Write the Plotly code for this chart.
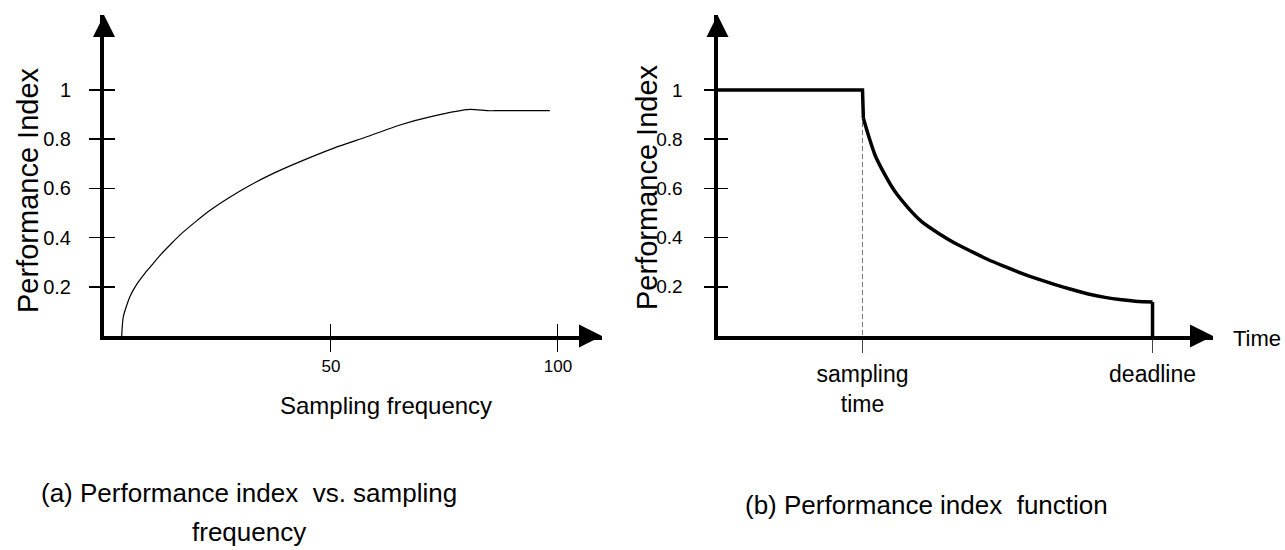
import plotly.graph_objects as go

# ---------------- data ----------------
# (a) performance index vs sampling frequency
freq_a = [3.9, 4.25, 5.7, 7.2, 9.0, 10.9, 12.7, 14.8, 17.0, 20.4, 23.3, 27.0, 31.4, 37.3,
          43.2, 50.5, 57.9, 65.2, 72.5, 80.6, 84.3, 87.2, 98.2]
perf_a = [0.0, 0.078, 0.16, 0.21, 0.255, 0.296, 0.335, 0.375, 0.415, 0.468, 0.51, 0.556,
          0.605, 0.661, 0.709, 0.763, 0.81, 0.858, 0.894, 0.921, 0.916, 0.916, 0.916]
xticks_a = [50, 100]
xticklabels_a = ["50", "100"]

# (b) performance index function over time (sampling time = 1, deadline = 3)
time_b = [0, 1, 1.006, 1.04, 1.086, 1.155, 1.224, 1.316, 1.408, 1.523, 1.638, 1.753, 1.868,
          1.983, 2.098, 2.212, 2.328, 2.443, 2.557, 2.672, 2.788, 2.902, 3, 3]
perf_b = [1, 1, 0.885, 0.817, 0.736, 0.655, 0.587, 0.52, 0.465, 0.418, 0.377, 0.343, 0.31,
          0.282, 0.255, 0.231, 0.209, 0.189, 0.171, 0.157, 0.147, 0.14, 0.138, 0]
sampling_time = 1
deadline = 3
xticks_b = [sampling_time, deadline]
xticklabels_b = ["sampling<br>time", "deadline"]

yticks = [0.2, 0.4, 0.6, 0.8, 1.0]
yticklabels = ["0.2", "0.4", "0.6", "0.8", "1"]

# ---------------- layout geometry ----------------
W, H = 1285, 550
def px(x):
    return x / W
def py(y):
    return 1 - y / H

Y_MAX = 1.305
XA_MAX = 109.7
XB_MAX = 3.417
ydom = [py(336), py(15)]
xdom_a = [px(104), px(602)]
xdom_b = [px(717.5), px(1213)]

FONT = "Liberation Sans, Arial, Helvetica, sans-serif"

fig = go.Figure()

# curve (a)
fig.add_trace(go.Scatter(x=freq_a, y=perf_a, mode="lines",
                         line=dict(color="black", width=1.2, shape="spline", smoothing=0.6),
                         xaxis="x", yaxis="y", showlegend=False, hoverinfo="skip"))
# dashed marker line at sampling time (b)
fig.add_trace(go.Scatter(x=[sampling_time, sampling_time], y=[perf_b[1], 0], mode="lines",
                         line=dict(color="#777", width=1, dash="5px,3px"),
                         xaxis="x2", yaxis="y2", showlegend=False, hoverinfo="skip"))
# curve (b): flat part, decay, drop at deadline
fig.add_trace(go.Scatter(x=time_b[:3], y=perf_b[:3], mode="lines",
                         line=dict(color="black", width=3.5),
                         xaxis="x2", yaxis="y2", showlegend=False, hoverinfo="skip"))
fig.add_trace(go.Scatter(x=time_b[2:-1], y=perf_b[2:-1], mode="lines",
                         line=dict(color="black", width=3.5, shape="spline", smoothing=0.6),
                         xaxis="x2", yaxis="y2", showlegend=False, hoverinfo="skip"))
fig.add_trace(go.Scatter(x=time_b[-2:], y=perf_b[-2:], mode="lines",
                         line=dict(color="black", width=3.5),
                         xaxis="x2", yaxis="y2", showlegend=False, hoverinfo="skip"))

# arrow heads at axis ends
for xa, ya, xmax in (("x", "y", XA_MAX), ("x2", "y2", XB_MAX)):
    fig.add_trace(go.Scatter(x=[xmax], y=[0], mode="markers", cliponaxis=False,
                             marker=dict(symbol="arrow-right", size=23, color="black",
                                         line=dict(width=0)),
                             xaxis=xa, yaxis=ya, showlegend=False, hoverinfo="skip"))
    fig.add_trace(go.Scatter(x=[0], y=[Y_MAX], mode="markers", cliponaxis=False,
                             marker=dict(symbol="arrow-up", size=22, color="black",
                                         line=dict(width=0)),
                             xaxis=xa, yaxis=ya, showlegend=False, hoverinfo="skip"))

# invisible traces so the overlay axes (inner half of cross ticks) get drawn
for xa, ya in (("x3", "y3"), ("x2", "y4")):
    fig.add_trace(go.Scatter(x=[0], y=[0], mode="markers", marker=dict(opacity=0),
                             xaxis=xa, yaxis=ya, showlegend=False, hoverinfo="skip"))

axis_common = dict(showgrid=False, zeroline=False, fixedrange=True)

fig.update_layout(
    width=W, height=H,
    margin=dict(l=0, r=0, t=0, b=0),
    paper_bgcolor="white", plot_bgcolor="rgba(0,0,0,0)",
    font=dict(family=FONT, color="black"),
    # ----- panel (a)
    xaxis=dict(domain=xdom_a, range=[0, XA_MAX], anchor="y",
               showline=True, linewidth=4, linecolor="black",
               ticks="outside", ticklen=12, tickwidth=1, tickcolor="black",
               tickvals=xticks_a, ticktext=xticklabels_a,
               tickfont=dict(size=17), ticklabelstandoff=0, **axis_common),
    yaxis=dict(domain=ydom, range=[0, Y_MAX], anchor="x",
               showline=True, linewidth=4, linecolor="black",
               ticks="outside", ticklen=11, tickwidth=1.5, tickcolor="black",
               tickvals=yticks, ticktext=yticklabels,
               tickfont=dict(size=20), ticklabelstandoff=14, **axis_common),
    xaxis3=dict(overlaying="x", range=[0, XA_MAX], anchor="y",
                ticks="inside", ticklen=12, tickwidth=1, tickcolor="black",
                tickvals=xticks_a, showticklabels=False, showline=False, **axis_common),
    yaxis3=dict(overlaying="y", range=[0, Y_MAX], anchor="x", side="left",
                ticks="inside", ticklen=11, tickwidth=1.5, tickcolor="black",
                tickvals=yticks, showticklabels=False, showline=False, **axis_common),
    # ----- panel (b)
    xaxis2=dict(domain=xdom_b, range=[0, XB_MAX], anchor="y2",
                showline=True, linewidth=4, linecolor="black",
                ticks="outside", ticklen=13, tickwidth=1, tickcolor="#444",
                tickvals=xticks_b, ticktext=xticklabels_b,
                tickfont=dict(size=23), ticklabelstandoff=1, **axis_common),
    yaxis2=dict(domain=ydom, range=[0, Y_MAX], anchor="x2",
                showline=True, linewidth=4, linecolor="black",
                ticks="outside", ticklen=10, tickwidth=1.5, tickcolor="black",
                tickvals=yticks, ticktext=yticklabels,
                tickfont=dict(size=19), ticklabelstandoff=17, **axis_common),
    yaxis4=dict(overlaying="y2", range=[0, Y_MAX], anchor="x2", side="left",
                ticks="inside", ticklen=10, tickwidth=1.5, tickcolor="black",
                tickvals=yticks, showticklabels=False, showline=False, **axis_common),
)

ann = [
    dict(text="Performance Index", x=px(28), y=py(190), textangle=-90, font=dict(size=29)),
    dict(text="Performance Index", x=px(647), y=py(187), textangle=-90, font=dict(size=29)),
    dict(text="Sampling frequency", x=px(386), y=py(405), font=dict(size=24)),
    dict(text="Time", x=px(1257), y=py(338), font=dict(size=22)),
    dict(text="(a) Performance index  vs. sampling", x=px(249), y=py(493), font=dict(size=26)),
    dict(text="frequency", x=px(249), y=py(532), font=dict(size=26)),
    dict(text="(b) Performance index  function", x=px(926), y=py(505), font=dict(size=26)),
]
for a in ann:
    a.update(xref="paper", yref="paper", showarrow=False, xanchor="center", yanchor="middle")
fig.update_layout(annotations=ann)

fig.write_html("out.html",
               config={"displayModeBar": False, "staticPlot": True},
               post_script="document.body.style.margin='0';document.body.style.overflow='hidden';")
